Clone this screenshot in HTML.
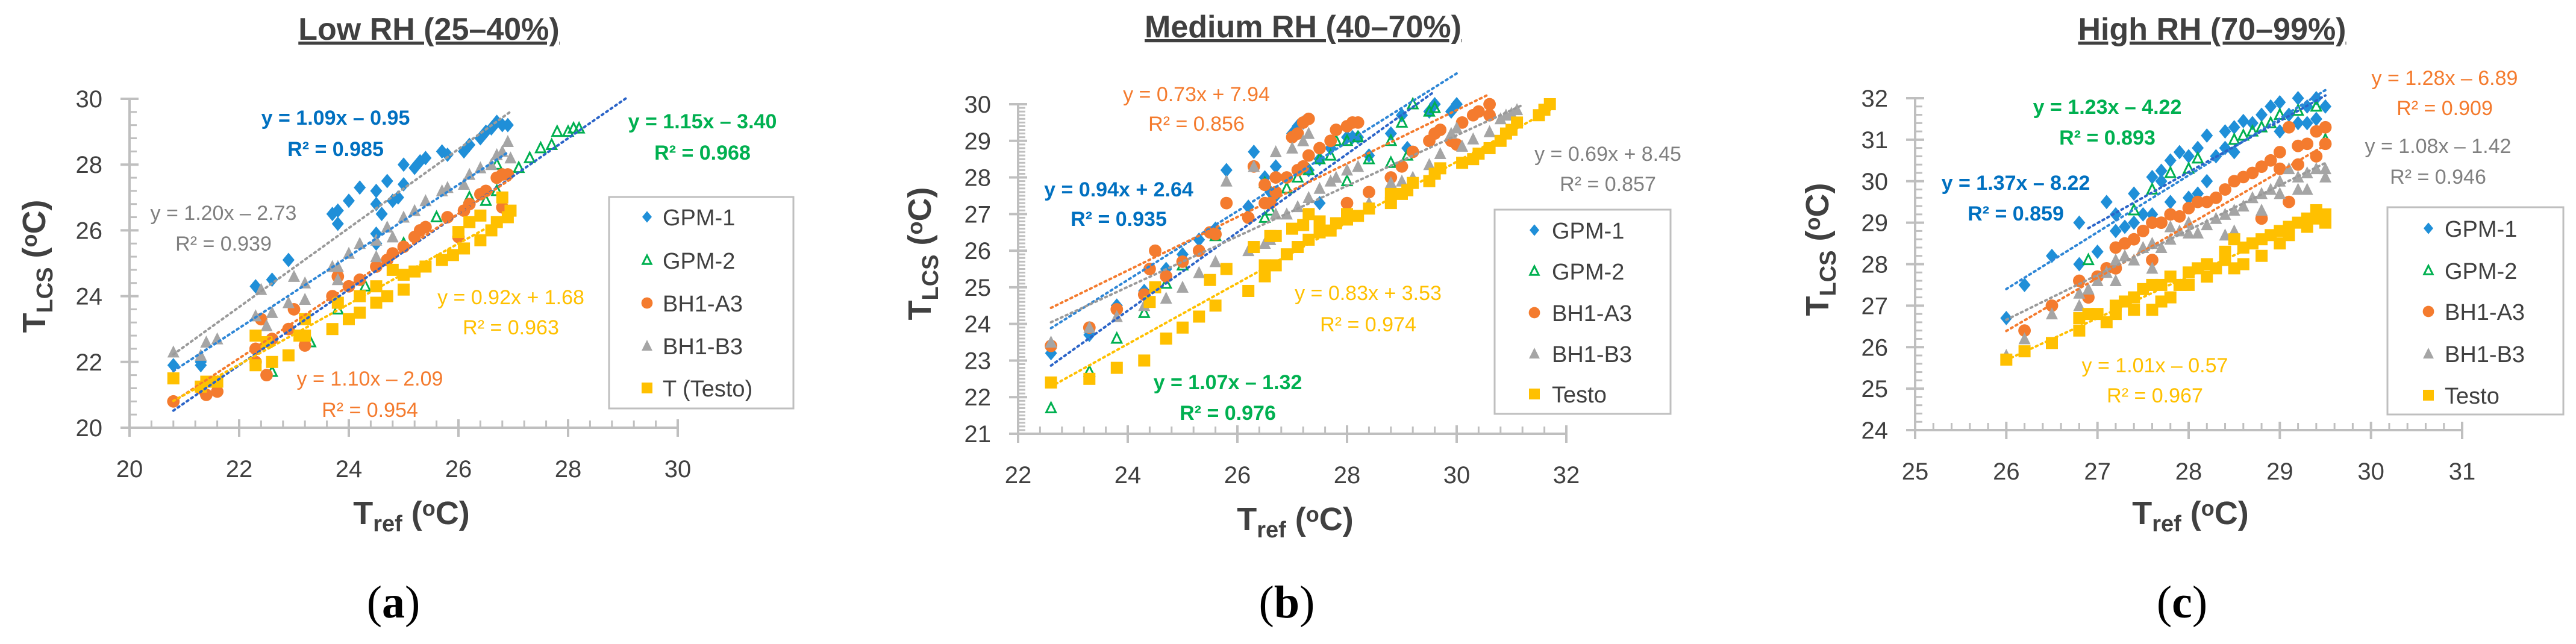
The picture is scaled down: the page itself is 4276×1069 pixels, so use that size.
<!DOCTYPE html>
<html><head><meta charset="utf-8"><style>
html,body{margin:0;padding:0;background:#fff;}
svg{display:block;font-family:"Liberation Sans",sans-serif;}
</style></head><body>
<svg id="fig" width="4276" height="1069" viewBox="0 0 4276 1069" xmlns="http://www.w3.org/2000/svg"></svg>
<script>
// ---------------- Panel (a) Low RH data ----------------
const aGpm1 = [[20.8,21.9],[21.3,22.0],[21.3,21.9],[22.3,24.3],[22.6,24.5],[22.9,25.1],[23.7,26.5],[23.8,26.6],[23.8,26.2],[24.0,26.9],[24.2,27.3],[24.5,27.2],[24.5,26.8],[24.6,26.5],[24.5,25.9],[24.5,25.6],[24.7,27.5],[24.8,26.9],[24.9,27.0],[25.0,28.0],[25.0,27.4],[25.2,27.9],[25.3,28.1],[25.4,28.2],[25.7,28.4],[25.8,28.3],[26.1,28.4],[26.2,28.6],[26.4,28.8],[26.5,29.0],[26.6,29.1],[26.7,29.3],[26.8,29.2],[26.9,29.2]];
const aGpm2 = [[22.6,21.7],[23.3,22.6],[23.8,23.6],[24.3,24.3],[25.0,25.6],[25.6,26.4],[26.2,27.0],[26.5,26.9],[26.7,27.2],[26.7,28.0],[27.1,27.9],[27.3,28.2],[27.5,28.5],[27.7,28.6],[27.8,29.0],[28.0,29.0],[28.1,29.1],[28.2,29.1]];
const aBhA3 = [[20.8,20.8],[21.3,21.2],[21.4,21.0],[21.6,21.1],[22.3,22.0],[22.3,22.4],[22.4,23.3],[22.5,21.6],[22.6,22.7],[22.9,23.0],[23.0,23.6],[23.2,22.5],[23.7,24.0],[23.8,24.6],[24.0,24.3],[24.2,24.5],[24.5,24.9],[24.7,25.1],[24.8,25.3],[25.0,25.5],[25.2,25.8],[25.3,26.0],[25.4,26.1],[25.8,26.4],[26.1,26.6],[26.2,26.8],[26.4,27.1],[26.5,27.2],[26.7,27.6],[26.8,27.7],[26.9,27.7],[26.8,26.7],[26.0,25.8]];
const aBhB3 = [[20.8,22.3],[21.3,22.2],[21.4,22.6],[21.6,22.7],[22.3,23.4],[22.4,24.2],[22.5,23.1],[22.6,23.5],[22.9,23.8],[23.0,24.6],[23.2,24.4],[23.2,23.9],[23.7,24.9],[23.8,24.9],[23.8,24.5],[24.0,25.3],[24.2,25.6],[24.5,25.7],[24.5,25.2],[24.7,26.1],[24.8,25.8],[25.0,26.4],[25.2,26.6],[25.4,26.9],[25.7,27.2],[25.8,27.3],[26.1,27.4],[26.2,27.7],[26.4,27.9],[26.6,28.0],[26.7,28.3],[26.8,28.4],[26.9,28.7],[26.95,28.2]];
const aTesto = [[20.8,21.5],[21.3,21.25],[21.4,21.4],[21.6,21.4],[22.3,22.8],[22.3,21.9],[22.5,22.6],[22.6,22.0],[22.9,22.2],[23.1,22.8],[23.2,23.3],[23.2,22.8],[23.7,23.0],[23.8,23.8],[24.0,23.3],[24.2,23.5],[24.2,24.0],[24.5,23.8],[24.5,24.3],[24.7,24.0],[24.8,24.8],[25.0,24.2],[25.0,24.65],[25.2,24.75],[25.4,24.9],[25.7,25.1],[25.9,25.25],[26.0,25.95],[26.1,25.45],[26.2,26.25],[26.4,25.7],[26.4,26.45],[26.6,26.0],[26.7,26.25],[26.8,27.0],[26.9,26.4],[26.95,26.6]];
const aSlopes = [1.09, 1.15, 1.10, 1.20, 0.92];
const aIntercepts = [-0.95, -3.40, -2.09, -2.73, 1.68];
const aTrendFrom = [20.8, 20.8, 20.8, 20.8, 20.8];
const aTrendTo = [26.9, 29.1, 26.95, 26.95, 27.0];
const aXTicks = [20,22,24,26,28,30];
const aYTicks = [20,22,24,26,28,30];

// ---------------- Panel (b) Medium RH data ----------------
const bGpm1 = [[22.6,23.2],[23.3,23.7],[23.8,24.5],[24.3,24.9],[24.7,25.5],[25.0,25.9],[25.3,26.3],[25.6,26.6],[25.8,28.2],[26.2,27.2],[26.3,28.7],[26.5,28.0],[26.6,27.6],[26.7,28.3],[26.7,27.5],[27.0,29.2],[27.1,29.4],[27.2,29.5],[27.3,28.2],[27.5,28.5],[27.5,27.3],[27.7,28.8],[28.0,29.1],[28.1,29.1],[28.2,29.1],[28.4,28.6],[28.8,29.2],[29.0,29.7],[29.1,28.8],[29.5,29.8],[29.6,30.0],[29.9,29.8],[30.0,30.0]];
const bGpm2 = [[22.6,21.7],[23.3,22.7],[23.8,23.6],[24.3,24.3],[24.7,25.1],[25.0,25.6],[25.6,26.4],[26.5,26.9],[26.6,27.1],[26.5,27.85],[26.9,27.7],[27.1,28.0],[27.3,28.2],[27.5,28.5],[27.7,28.6],[27.8,29.0],[28.0,29.0],[28.0,27.9],[28.2,29.1],[28.4,28.5],[28.8,29.0],[28.8,28.4],[29.0,29.5],[29.1,28.6],[29.2,30.0],[29.5,29.8],[29.6,29.9]];
const bBhA3 = [[22.6,23.4],[23.3,23.9],[23.8,24.4],[24.3,24.8],[24.4,25.5],[24.5,26.0],[24.7,25.3],[25.0,25.7],[25.3,26.0],[25.5,26.5],[25.6,26.45],[25.8,27.3],[26.2,26.9],[26.3,28.3],[26.5,27.8],[26.5,27.3],[26.6,27.3],[26.7,28.0],[26.7,27.6],[26.9,28.0],[27.0,29.1],[27.1,29.2],[27.1,28.2],[27.2,29.5],[27.2,28.3],[27.3,29.6],[27.3,28.6],[27.5,28.8],[27.7,29.0],[27.8,29.3],[28.0,27.3],[28.0,29.4],[28.1,29.5],[28.2,29.5],[28.4,27.6],[28.8,28.0],[29.0,28.3],[29.2,28.7],[29.5,29.0],[29.6,29.2],[29.7,29.3],[29.9,29.0],[30.0,28.9],[30.1,29.5],[30.3,29.7],[30.4,29.8],[30.6,30.0],[30.6,29.7]];
const bBhB3 = [[22.6,23.5],[23.3,23.9],[23.8,24.2],[24.3,24.5],[24.7,24.7],[25.0,25.0],[25.3,25.4],[25.6,25.7],[25.8,27.9],[26.2,26.0],[26.3,28.3],[26.5,26.2],[26.6,26.3],[26.7,27.0],[26.7,28.7],[26.9,27.0],[27.0,28.8],[27.1,27.2],[27.2,29.0],[27.3,29.2],[27.3,27.45],[27.5,27.7],[27.7,27.9],[27.8,28.0],[28.0,28.2],[28.2,28.3],[28.4,27.3],[28.8,27.85],[29.0,27.9],[29.2,28.0],[29.5,28.35],[29.7,28.65],[29.9,29.2],[30.0,29.35],[30.1,28.85],[30.3,29.05],[30.6,29.25],[30.8,29.6],[30.9,29.7],[31.0,29.75],[31.1,29.85]];
const bTesto = [[22.6,22.4],[23.3,22.5],[23.8,22.8],[24.3,23.0],[24.4,24.6],[24.5,25.0],[24.7,23.6],[25.0,23.9],[25.3,24.2],[25.5,25.2],[25.6,24.5],[25.8,25.5],[26.2,24.9],[26.3,26.1],[26.5,25.3],[26.5,25.6],[26.6,26.4],[26.7,25.6],[26.7,26.4],[26.9,25.9],[27.0,26.6],[27.1,26.1],[27.2,26.7],[27.3,27.0],[27.3,26.3],[27.5,26.5],[27.5,26.8],[27.7,26.55],[27.8,26.75],[28.0,27.0],[28.0,26.85],[28.2,26.95],[28.4,27.15],[28.8,27.3],[28.8,27.55],[29.0,27.55],[29.1,27.65],[29.2,27.85],[29.5,27.9],[29.6,28.1],[29.7,28.25],[30.1,28.4],[30.3,28.5],[30.4,28.65],[30.6,28.8],[30.8,29.0],[30.9,29.2],[31.0,29.3],[31.1,29.5],[31.5,29.7],[31.6,29.85],[31.7,30.0]];
const bSlopes = [0.94, 1.07, 0.73, 0.69, 0.83];
const bIntercepts = [2.64, -1.32, 7.94, 8.45, 3.53];
const bTrendFrom = [22.6, 22.6, 22.6, 22.6, 22.6];
const bTrendTo = [30.0, 29.6, 30.6, 31.2, 31.7];
const bXTicks = [22,24,26,28,30,32];
const bYTicks = [21,22,23,24,25,26,27,28,29,30];

// ---------------- Panel (c) High RH data ----------------
const cGpm1 = [[26.0,26.7],[26.2,27.5],[26.5,28.2],[26.8,29.0],[26.8,28.0],[27.0,28.3],[27.1,29.5],[27.2,29.2],[27.2,28.8],[27.3,28.9],[27.4,29.7],[27.4,29.0],[27.5,29.2],[27.6,30.1],[27.6,29.2],[27.7,30.25],[27.7,30.0],[27.8,30.5],[27.8,29.5],[27.9,30.7],[28.0,30.6],[28.0,29.6],[28.1,30.8],[28.1,29.7],[28.2,31.1],[28.2,30.0],[28.3,30.6],[28.4,31.2],[28.4,30.8],[28.5,31.3],[28.5,30.7],[28.6,31.45],[28.7,31.4],[28.8,31.6],[28.9,31.8],[29.0,31.9],[29.0,31.2],[29.1,31.6],[29.2,32.0],[29.2,31.4],[29.3,31.4],[29.3,31.8],[29.4,32.0],[29.4,31.5],[29.5,31.8]];
const cGpm2 = [[26.9,28.1],[27.4,29.3],[27.6,29.8],[27.8,30.2],[28.0,30.3],[28.1,30.55],[28.5,31.0],[28.6,31.1],[28.7,31.2],[28.8,31.3],[28.9,31.4],[29.0,31.6],[29.2,31.7],[29.4,31.8],[29.5,31.0]];
const cBhA3 = [[26.2,26.4],[26.5,27.0],[26.8,27.6],[26.9,27.2],[27.0,27.7],[27.1,27.9],[27.2,28.4],[27.2,27.9],[27.3,28.5],[27.4,28.6],[27.5,28.8],[27.6,29.0],[27.6,28.1],[27.7,29.0],[27.8,29.2],[27.9,29.15],[28.0,29.35],[28.1,29.5],[28.2,29.5],[28.3,29.6],[28.4,29.8],[28.5,30.0],[28.6,30.1],[28.7,30.2],[28.8,30.35],[28.8,29.1],[28.9,30.5],[29.0,30.7],[29.0,30.3],[29.1,31.3],[29.1,29.5],[29.2,30.85],[29.2,30.4],[29.3,30.9],[29.4,30.6],[29.4,31.2],[29.5,31.3],[29.5,30.9]];
const cBhB3 = [[26.0,25.8],[26.2,26.2],[26.5,26.8],[26.8,27.3],[26.8,27.0],[26.9,27.4],[27.0,27.6],[27.1,27.8],[27.2,28.1],[27.2,27.6],[27.3,28.2],[27.4,28.1],[27.5,28.4],[27.6,27.9],[27.6,28.5],[27.7,28.4],[27.8,28.6],[27.8,28.9],[27.9,28.8],[28.0,28.75],[28.0,29.0],[28.1,28.75],[28.2,28.95],[28.3,29.1],[28.4,28.7],[28.4,29.2],[28.5,29.3],[28.5,28.8],[28.6,29.4],[28.7,29.6],[28.8,29.7],[28.8,29.3],[28.9,29.8],[29.0,30.0],[29.0,29.7],[29.1,30.3],[29.2,30.1],[29.2,29.8],[29.3,30.2],[29.3,29.8],[29.4,30.3],[29.5,30.3],[29.5,30.1]];
const cTesto = [[26.0,25.7],[26.2,25.9],[26.5,26.1],[26.8,26.4],[26.8,26.7],[26.9,26.8],[27.0,26.8],[27.1,26.6],[27.2,27.0],[27.2,26.8],[27.3,27.1],[27.4,26.9],[27.4,27.2],[27.5,27.4],[27.6,26.9],[27.6,27.5],[27.7,27.1],[27.7,27.5],[27.8,27.2],[27.8,27.7],[27.9,27.5],[28.0,27.5],[28.0,27.8],[28.1,27.9],[28.2,27.7],[28.2,28.0],[28.3,27.9],[28.4,28.1],[28.4,28.3],[28.5,28.6],[28.5,27.9],[28.6,28.4],[28.6,28.0],[28.7,28.5],[28.8,28.6],[28.8,28.2],[28.9,28.7],[29.0,28.8],[29.0,28.5],[29.1,28.9],[29.1,28.7],[29.2,29.0],[29.3,29.1],[29.3,28.9],[29.4,29.3],[29.4,29.1],[29.5,29.2],[29.5,29.0]];
const cSlopes = [1.37, 1.23, 1.28, 1.08, 1.01];
const cIntercepts = [-8.22, -4.22, -6.89, -1.42, -0.57];
const cTrendFrom = [26.0, 26.9, 26.0, 26.0, 26.0];
const cTrendTo = [29.5, 29.5, 29.5, 29.5, 29.5];
const cXTicks = [25,26,27,28,29,30,31];
const cYTicks = [24,25,26,27,28,29,30,31,32];

const seriesNames = ["GPM-1","GPM-2","BH1-A3","BH1-B3","Testo"];
const seriesKeys = ["gpm-1","gpm-2","bh1-a3","bh1-b3","testo"];

const NS = "http://www.w3.org/2000/svg";
const svg = document.getElementById("fig");
const COL = {blue:"#1f8fd8", green:"#00b050", orange:"#f47b2e", gray:"#a5a5a5", yellow:"#ffc000"};
const markCol = [COL.blue, COL.green, COL.orange, COL.gray, COL.yellow];
const lineCol = ["#2e86d6","#2b64c8","#f47b2e","#9a9a9a","#ffc000"];
const eqBlue="#0070c0", eqGreen="#00b050", eqOrange="#f47b2e", eqGray="#808080", eqYellow="#ffc000";

function mk(tag, attrs, parent){
  const e=document.createElementNS(NS,tag);
  for(const k in attrs) e.setAttribute(k,attrs[k]);
  (parent||svg).appendChild(e);
  return e;
}
function txt(parent, x, y, s, size, color, weight, anchor, family){
  const t=mk("text",{x:x,y:y,"font-size":size,fill:color,"font-weight":weight||"normal","text-anchor":anchor||"middle","font-family":family||'"Liberation Sans",sans-serif'},parent);
  t.textContent=s;
  return t;
}

function marker(g, i, x, y, s){
  let e;
  if(i===0){ e=mk("polygon",{points:`${x},${y-s*0.6} ${x+s*0.5},${y} ${x},${y+s*0.6} ${x-s*0.5},${y}`,fill:markCol[0]},g); }
  else if(i===1){ e=mk("polygon",{points:`${x},${y-s*0.45} ${x+s*0.4},${y+s*0.35} ${x-s*0.4},${y+s*0.35}`,fill:"none",stroke:markCol[1],"stroke-width":3},g); }
  else if(i===2){ e=mk("ellipse",{cx:x,cy:y,rx:s*0.52,ry:s*0.52,fill:markCol[2]},g); }
  else if(i===3){ e=mk("polygon",{points:`${x},${y-s*0.55} ${x+s*0.5},${y+s*0.45} ${x-s*0.5},${y+s*0.45}`,fill:markCol[3]},g); }
  else { e=mk("rect",{x:x-s*0.5,y:y-s*0.5,width:s,height:s,fill:markCol[4]},g); }
  return e;
}

function panel(cfg){
  const g=mk("g",{});
  
  
  const X=v=>cfg.px0+(v-cfg.xmin)/(cfg.xmax-cfg.xmin)*(cfg.px1-cfg.px0);
  const Y=v=>cfg.py0-(v-cfg.ymin)/(cfg.ymax-cfg.ymin)*(cfg.py0-cfg.py1);

  const tt=txt(g, cfg.titleX, cfg.titleY, cfg.title, 52, "#404040", "bold");
  tt.setAttribute('text-decoration','underline');
  
  

  const ax=mk("g",{stroke:"#bfbfbf","stroke-width":4},g);
  
  
  mk("line",{x1:cfg.px0,y1:cfg.py0,x2:cfg.px1,y2:cfg.py0},ax);
  mk("line",{x1:cfg.px0,y1:cfg.py0,x2:cfg.px0,y2:cfg.py1},ax);
  for(let v=cfg.xmin; v<cfg.xmax-1e-6; v+=cfg.xMinor){ const px=X(v); mk("line",{x1:px,y1:cfg.py0,x2:px,y2:cfg.py0-12,"stroke-width":3},ax); }
  for(let v=cfg.ymin; v<cfg.ymax+1e-6; v+=cfg.yMinor){ const py=Y(v); mk("line",{x1:cfg.px0,y1:py,x2:cfg.px0+12,y2:py,"stroke-width":3},ax); }
  cfg.xTicks.forEach(v=>{
    const px=X(v);
    mk("line",{x1:px,y1:cfg.py0-14,x2:px,y2:cfg.py0+15},ax);
    const t=txt(g,px,cfg.py0+82,String(v),40,"#404040");
    
    
  });
  cfg.yTicks.forEach(v=>{
    const py=Y(v);
    mk("line",{x1:cfg.px0-15,y1:py,x2:cfg.px0+15,y2:py},ax);
    const t=txt(g,cfg.px0-45,py+14,String(v),40,"#404040","normal","end");
    
    
  });

  const xt=mk("text",{x:cfg.xTitleX,y:cfg.xTitleY,"font-size":54,"font-weight":"bold",fill:"#404040","text-anchor":"middle"},g);
  xt.innerHTML='T<tspan font-size="38" dy="12">ref</tspan><tspan dy="-12"> (</tspan><tspan font-size="36" dy="-14">o</tspan><tspan dy="14">C)</tspan>';
  
  
  const yt=mk("text",{x:0,y:0,"font-size":54,"font-weight":"bold",fill:"#404040","text-anchor":"middle",transform:`translate(${cfg.yTitleX},${cfg.yTitleY}) rotate(-90)`},g);
  yt.innerHTML='T<tspan font-size="38" dy="12">LCS</tspan><tspan dy="-12"> (</tspan><tspan font-size="36" dy="-14">o</tspan><tspan dy="14">C)</tspan>';
  
  

  cfg.series.forEach((pts,i)=>{
    const sg=mk("g",{},g);
    
    
    pts.forEach(p=>{
      const m=marker(sg,i,X(p[0]),Y(p[1]),20);
      
      
    });
  });
  cfg.slopes.forEach((s,i)=>{
    const a=cfg.from[i], b=cfg.to[i];
    const l=mk("line",{x1:X(a),y1:Y(s*a+cfg.ints[i]),x2:X(b),y2:Y(s*b+cfg.ints[i]),stroke:lineCol[i],"stroke-width":4,"stroke-dasharray":"3 6","stroke-linecap":"round"},g);
    
    
  });

  cfg.eqs.forEach(e=>{
    const t1=txt(g,e[0],e[1]+12,e[3],34,e[5],e[6]);
    
    
    const t2=txt(g,e[0],e[2]+12,e[4],34,e[5],e[6]);
    
    
  });

  const lg=mk("g",{},g);
  
  
  const L=cfg.legend;
  mk("rect",{x:L.x,y:L.y,width:L.w,height:L.h,fill:"#fff",stroke:"#bfbfbf","stroke-width":3},lg);
  cfg.legendNames.forEach((n,i)=>{
    const ey=L.rows[i];
    const eg=mk("g",{},lg);
    
    
    marker(eg,i,L.mx,ey,i===0?16:18);
    txt(eg,L.tx,ey+14,n,38,"#404040","normal","start");
  });

  const pl=mk("text",{x:cfg.labelX,y:1025,"font-size":76,fill:"#000","text-anchor":"middle","font-family":'"Liberation Serif",serif'},g);
  pl.innerHTML='(<tspan font-weight="bold">'+cfg.label+'</tspan>)';
  
  
}

panel({name:"panel-a-low-rh", title:"Low RH (25–40%)", titleX:712, titleY:66,
  px0:215, px1:1125, py0:710, py1:164, xmin:20, xmax:30, ymin:20, ymax:30, xMinor:0.4, yMinor:0.4,
  xTicks:aXTicks, yTicks:aYTicks, xTitleX:683, xTitleY:870, yTitleX:75, yTitleY:442,
  series:[aGpm1,aGpm2,aBhA3,aBhB3,aTesto], slopes:aSlopes, ints:aIntercepts, from:aTrendFrom, to:aTrendTo,
  eqs:[[557,195,247,"y = 1.09x – 0.95","R² = 0.985",eqBlue,"bold"],
       [1166,201,253,"y = 1.15x – 3.40","R² = 0.968",eqGreen,"bold"],
       [371,353,404,"y = 1.20x – 2.73","R² = 0.939",eqGray,"normal"],
       [848,493,543,"y = 0.92x + 1.68","R² = 0.963",eqYellow,"normal"],
       [614,628,680,"y = 1.10x – 2.09","R² = 0.954",eqOrange,"normal"]],
  legend:{x:1011,y:327,w:306,h:351,rows:[360,432,503,574,644],mx:1074,tx:1100},
  legendNames:["GPM-1","GPM-2","BH1-A3","BH1-B3","T (Testo)"], label:"a", labelX:653});

panel({name:"panel-b-medium-rh", title:"Medium RH (40–70%)", titleX:2163, titleY:62,
  px0:1690, px1:2600, py0:720, py1:173, xmin:22, xmax:32, ymin:21, ymax:30, xMinor:0.4, yMinor:0.1,
  xTicks:bXTicks, yTicks:bYTicks, xTitleX:2150, xTitleY:880, yTitleX:1545, yTitleY:421,
  series:[bGpm1,bGpm2,bBhA3,bBhB3,bTesto], slopes:bSlopes, ints:bIntercepts, from:bTrendFrom, to:bTrendTo,
  eqs:[[1986,156,205,"y = 0.73x + 7.94","R² = 0.856",eqOrange,"normal"],
       [1857,314,363,"y = 0.94x + 2.64","R² = 0.935",eqBlue,"bold"],
       [2669,255,305,"y = 0.69x + 8.45","R² = 0.857",eqGray,"normal"],
       [2271,486,538,"y = 0.83x + 3.53","R² = 0.974",eqYellow,"normal"],
       [2038,634,685,"y = 1.07x – 1.32","R² = 0.976",eqGreen,"bold"]],
  legend:{x:2481,y:348,w:292,h:339,rows:[382,450,519,587,654],mx:2547,tx:2576},
  legendNames:seriesNames, label:"b", labelX:2136});

panel({name:"panel-c-high-rh", title:"High RH (70–99%)", titleX:3672, titleY:66,
  px0:3179, px1:4087, py0:714, py1:163, xmin:25, xmax:31, ymin:24, ymax:32, xMinor:0.2, yMinor:0.2,
  xTicks:cXTicks, yTicks:cYTicks, xTitleX:3636, xTitleY:870, yTitleX:3035, yTitleY:414,
  series:[cGpm1,cGpm2,cBhA3,cBhB3,cTesto], slopes:cSlopes, ints:cIntercepts, from:cTrendFrom, to:cTrendTo,
  eqs:[[3498,177,228,"y = 1.23x – 4.22","R² = 0.893",eqGreen,"bold"],
       [4058,129,179,"y = 1.28x – 6.89","R² = 0.909",eqOrange,"normal"],
       [4047,242,293,"y = 1.08x – 1.42","R² = 0.946",eqGray,"normal"],
       [3346,303,354,"y = 1.37x – 8.22","R² = 0.859",eqBlue,"bold"],
       [3577,606,656,"y = 1.01x – 0.57","R² = 0.967",eqYellow,"normal"]],
  legend:{x:3963,y:344,w:292,h:344,rows:[379,449,517,587,656],mx:4031,tx:4058},
  legendNames:seriesNames, label:"c", labelX:3622});
</script>
</body></html>
